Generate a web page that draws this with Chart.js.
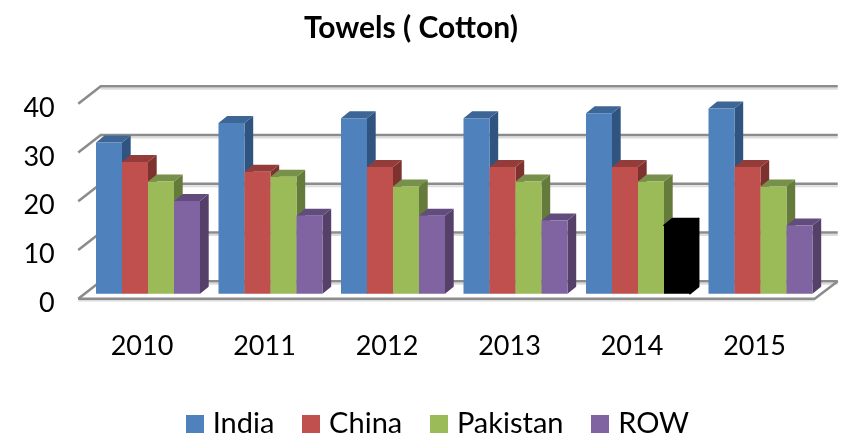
<!DOCTYPE html>
<html>
<head>
<meta charset="utf-8">
<style>
  html, body { margin: 0; background: #fff; }
  canvas { display: block; }
</style>
<script src="https://cdn.jsdelivr.net/npm/chart.js@4"></script>
</head>
<body>
<canvas id="towelsChart" width="848" height="433"></canvas>
<script>
const years = ["2010", "2011", "2012", "2013", "2014", "2015"];
const india = [31, 35, 36, 36, 37, 38];
const china = [27, 25, 26, 26, 26, 26];
const pakistan = [23, 24, 22, 23, 23, 22];
const row = [19, 16, 16, 15, 14, 14];
const yTicks = [0, 10, 20, 30, 40];

const fontName = "Lato, Carlito, sans-serif";
const barDepth = { x: 8.7, y: 7 };

// front, top and side colours of each series
const seriesStyles = [
  { label: "India", values: india, front: "#4f81bd", top: "#3d6595", side: "#2f5480" },
  { label: "China", values: china, front: "#c0504d", top: "#933c3a", side: "#7d322f" },
  { label: "Pakistan", values: pakistan, front: "#9bbb59", top: "#77904a", side: "#657b3c" },
  { label: "ROW", values: row, front: "#8064a2", top: "#624c7e", side: "#544069" },
];
// the 2014 ROW bar is solid black in the source picture
const blackBar = { series: 3, index: 4 };

function isBlack(datasetIndex, index) {
  return datasetIndex === blackBar.series && index === blackBar.index;
}

function makeSwatch(color) {
  const c = document.createElement("canvas");
  c.width = 18;
  c.height = 18;
  const g = c.getContext("2d");
  g.fillStyle = color;
  g.fillRect(0, 0, 18, 18);
  return c;
}

function polygon(ctx, pts, color, rounded) {
  ctx.fillStyle = color;
  ctx.beginPath();
  pts.forEach((p, i) => (i ? ctx.lineTo(p[0], p[1]) : ctx.moveTo(p[0], p[1])));
  ctx.closePath();
  ctx.fill();
  if (rounded) {
    ctx.strokeStyle = color;
    ctx.lineWidth = 1.5;
    ctx.lineJoin = "round";
    ctx.stroke();
  }
}

function line(ctx, pts, color, width) {
  ctx.strokeStyle = color;
  ctx.lineWidth = width;
  ctx.beginPath();
  pts.forEach((p, i) => (i ? ctx.lineTo(p[0], p[1]) : ctx.moveTo(p[0], p[1])));
  ctx.stroke();
}

function drawWalls(chart) {
  const ctx = chart.ctx;
  const area = chart.chartArea;
  const y = chart.scales.y;
  const frontL = area.left - 8.5;
  const backL = area.left + 14;
  const backR = area.right + 16;
  const frontR = area.right - 7;
  yTicks.forEach((t) => {
    const py = y.getPixelForValue(t);
    const back = py - 12.5;
    const front = py + 5;
    line(ctx, [[backL, back + 2.5], [backR, back + 2.5]], "#dcdcdc", 2);
    line(ctx, [[frontL, front], [backL, back], [backR, back]], "#8c8c8c", 2.6);
    if (t === 0) {
      line(ctx, [[frontL, front + 2], [frontR, front + 2]], "#dcdcdc", 1.5);
      line(ctx, [[frontL, front], [frontR, front], [backR, back]], "#8c8c8c", 2.6);
    }
  });
}

const bars3d = {
  id: "bars3d",
  afterLayout(chart) {
    // legend sits lower and further right than the centred default
    chart.legend.left += 29.3;
    chart.legend.right += 29.3;
    chart.legend.top += 15.5;
    chart.legend.bottom += 15.5;
  },
  beforeDatasetsDraw(chart) {
    const ctx = chart.ctx;
    drawWalls(chart);
    seriesStyles.forEach((s, d) => {
      const meta = chart.getDatasetMeta(d);
      meta.data.forEach((bar, i) => {
        const left = bar.x - bar.width / 2;
        const right = bar.x + bar.width / 2;
        const black = isBlack(d, i);
        polygon(ctx, [[right, bar.y], [right + barDepth.x, bar.y - barDepth.y],
          [right + barDepth.x, bar.base - barDepth.y], [right, bar.base]], black ? "#000" : s.side, black);
        polygon(ctx, [[left, bar.y], [left + barDepth.x, bar.y - barDepth.y],
          [right + barDepth.x, bar.y - barDepth.y], [right, bar.y]], black ? "#000" : s.top, black);
        bar.draw(ctx, chart.chartArea);
      });
    });
    return false;
  },
};

new Chart(document.getElementById("towelsChart"), {
  type: "bar",
  data: {
    labels: years,
    datasets: seriesStyles.map((s, d) => ({
      label: s.label,
      data: s.values,
      backgroundColor: s.values.map((v, i) => (isBlack(d, i) ? "#000" : s.front)),
      borderWidth: 0,
      barPercentage: 1,
      categoryPercentage: 0.849,
    })),
  },
  plugins: [bars3d],
  options: {
    responsive: false,
    animation: false,
    layout: { padding: { right: 26.25 } },
    plugins: {
      title: {
        display: true,
        text: "Towels ( Cotton)",
        color: "#000",
        font: { family: fontName, size: 30, weight: "bold" },
        padding: { top: 10, bottom: 52.7 },
      },
      legend: {
        position: "bottom",
        labels: {
          color: "#000",
          font: { family: fontName, size: 29 },
          padding: 33.2,
          usePointStyle: true,
          pointStyleWidth: 7,
          generateLabels() {
            return seriesStyles.map((s, d) => ({
              text: s.label,
              fontColor: "#000",
              fillStyle: s.front,
              strokeStyle: s.front,
              lineWidth: 0,
              pointStyle: makeSwatch(s.front),
              datasetIndex: d,
            }));
          },
        },
      },
      tooltip: { enabled: false },
    },
    scales: {
      x: {
        grid: { display: false },
        border: { display: false },
        ticks: {
          color: "#000",
          maxRotation: 0,
          padding: 28,
          labelOffset: -6,
          font: { family: fontName, size: 27 },
        },
        afterFit(scale) {
          scale.height = 67.1;
        },
      },
      y: {
        min: 0,
        max: 40,
        afterBuildTicks(scale) {
          scale.ticks = yTicks.map((v) => ({ value: v }));
        },
        grid: { display: false, drawTicks: false },
        border: { display: false },
        ticks: {
          color: "#000",
          padding: 32,
          labelOffset: 9.5,
          font: { family: fontName, size: 27 },
        },
        afterFit(scale) {
          scale.width = 86.75;
        },
      },
    },
  },
});
</script>
</body>
</html>
